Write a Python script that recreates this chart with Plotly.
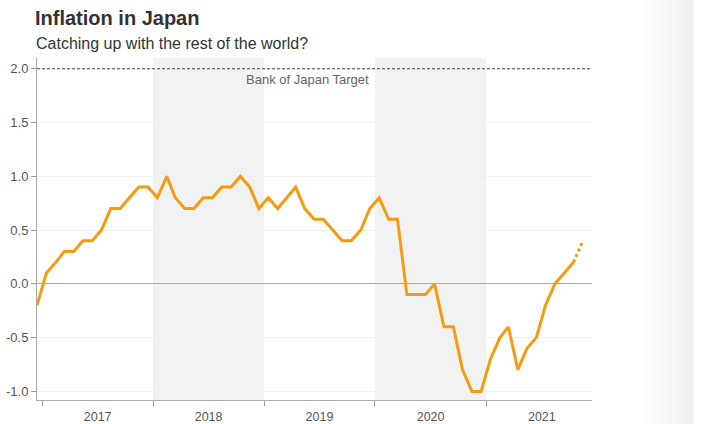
import pandas as pd
import plotly.graph_objects as go

# ---- data ----
start_month = "2016-12-01"
inflation = [
    -0.2,
    0.1, 0.2, 0.3, 0.3, 0.4, 0.4, 0.5, 0.7, 0.7, 0.8, 0.9, 0.9,
    0.8, 1.0, 0.8, 0.7, 0.7, 0.8, 0.8, 0.9, 0.9, 1.0, 0.9, 0.7,
    0.8, 0.7, 0.8, 0.9, 0.7, 0.6, 0.6, 0.5, 0.4, 0.4, 0.5, 0.7,
    0.8, 0.6, 0.6, -0.1, -0.1, -0.1, 0.0, -0.4, -0.4, -0.8, -1.0, -1.0,
    -0.7, -0.5, -0.4, -0.8, -0.6, -0.5, -0.2, 0.0, 0.1, 0.2,
]
forecast_dates = ["2021-10-15", "2021-11-15"]
forecast_values = [0.2, 0.4]
shaded_years = [("2018-01-01", "2019-01-01"), ("2020-01-01", "2021-01-01")]
target_value = 2.0
target_label = "Bank of Japan Target"
y_ticks = [-1.0, -0.5, 0.0, 0.5, 1.0, 1.5, 2.0]
y_tick_labels = ["-1.0", "-0.5", "0.0", "0.5", "1.0", "1.5", "2.0"]
title_text = "Inflation in Japan"
subtitle_text = "Catching up with the rest of the world?"

dates = pd.date_range(start_month, periods=len(inflation), freq="MS") + pd.Timedelta(days=14)

ORANGE = "#f59b0f"
FONT = "Liberation Sans, Arial, sans-serif"

fig = go.Figure()
fig.add_trace(go.Scatter(x=dates, y=inflation, mode="lines",
                         line=dict(color=ORANGE, width=3), hoverinfo="skip",
                         showlegend=False))
fig.add_trace(go.Scatter(x=forecast_dates, y=forecast_values, mode="lines",
                         line=dict(color=ORANGE, width=3, dash="dot"),
                         hoverinfo="skip", showlegend=False))

shapes = []
for x0, x1 in shaded_years:
    shapes.append(dict(type="rect", xref="x", yref="paper", x0=x0, x1=x1, y0=0, y1=1,
                       fillcolor="#f2f2f2", line=dict(width=0), layer="below"))
shapes.append(dict(type="line", xref="paper", yref="y", x0=0, x1=1,
                   y0=target_value, y1=target_value,
                   line=dict(color="#444444", width=1, dash="3px,2px")))

# light gradient strip on right of the page (screenshot background)
W, H = 703, 424
plot_l, plot_r = 37, 592
plot_t, plot_b = 58, 400
pw = plot_r - plot_l
ph = plot_b - plot_t
sx0, sx1 = 640, 693
n_strips = 14
for i in range(n_strips):
    a = sx0 + i * (sx1 - sx0) / n_strips
    b = a + (sx1 - sx0) / n_strips + 0.6
    g = round(255 - (255 - 241) * ((i + 1) / n_strips) ** 1.3)
    c = "rgb(%d,%d,%d)" % (g, g, g)
    shapes.append(dict(type="rect", xref="paper", yref="paper",
                       x0=(a - plot_l) / pw, x1=(b - plot_l) / pw,
                       y0=(plot_b - H - 5) / ph, y1=(plot_b + 5) / ph,
                       fillcolor=c, line=dict(width=0), layer="below"))

fig.update_layout(
    width=W, height=H,
    margin=dict(l=plot_l, r=W - plot_r, t=plot_t, b=H - plot_b, autoexpand=False),
    paper_bgcolor="white", plot_bgcolor="rgba(0,0,0,0)",
    font=dict(family=FONT, color="#555555", size=12),
    shapes=shapes,
    title=dict(text="<b>" + title_text + "</b>", x=35 / W, xanchor="left",
               y=1 - 18 / H, yanchor="middle",
               font=dict(size=20, color="#333333", family=FONT)),
    annotations=[
        dict(text=subtitle_text, xref="paper", yref="paper", x=0, y=1 + (plot_t - 44) / ph,
             xanchor="left", yanchor="middle", xshift=-3, showarrow=False,
             font=dict(size=16, color="#333333", family=FONT)),
        dict(text=target_label, xref="paper", yref="y", x=(307 - plot_l) / pw, y=target_value,
             xanchor="center", yanchor="middle", yshift=-11, showarrow=False,
             font=dict(size=13, color="#666666", family=FONT)),
    ],
    xaxis=dict(type="date", range=["2016-12-15", "2021-12-15"],
               dtick="M12", tick0="2017-01-01", ticklabelmode="period",
               tickformat="%Y", ticks="outside", ticklen=5, tickcolor="#999999",
               showline=True, linecolor="#aaaaaa", linewidth=1,
               showgrid=False, zeroline=False, automargin=False,
               tickfont=dict(size=12.5, color="#555555")),
    yaxis=dict(range=[-1.08, 2.1], tickvals=y_ticks, ticktext=y_tick_labels,
               ticks="outside", ticklen=5, tickcolor="#999999",
               showline=True, linecolor="#aaaaaa", linewidth=1,
               showgrid=True, gridcolor="#f0f0f0", gridwidth=1,
               zeroline=True, zerolinecolor="#aaaaaa", zerolinewidth=1,
               automargin=False,
               tickfont=dict(size=13, color="#555555")),
)

fig.write_html("out.html", config={"displayModeBar": False},
               post_script="document.body.style.margin='0';document.body.style.overflow='hidden';")
